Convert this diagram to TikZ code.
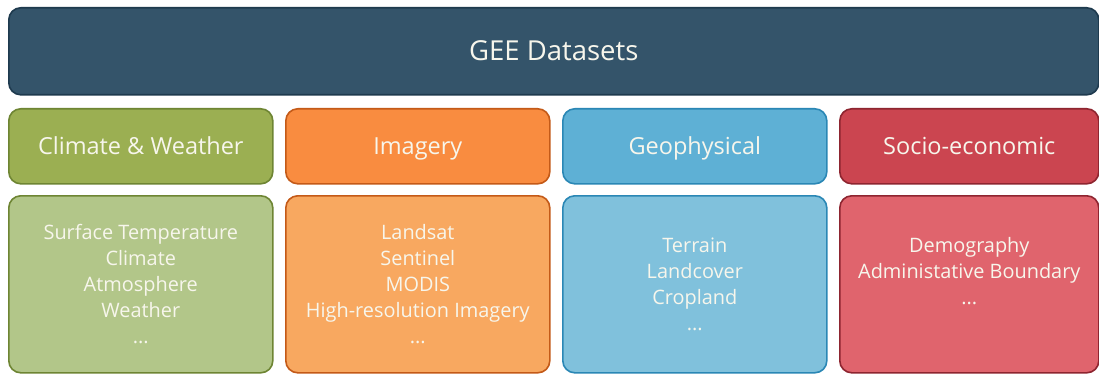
\documentclass[tikz,border=0pt]{standalone}
\usepackage{fontspec}
\setmainfont{Open Sans}
\usetikzlibrary{positioning}
\definecolor{geeblue}{HTML}{34546A}
\definecolor{geeblueline}{HTML}{1E3A4E}
\definecolor{climdark}{HTML}{9BAF52}
\definecolor{climline}{HTML}{6E8533}
\definecolor{climlight}{HTML}{B2C689}
\definecolor{imgdark}{HTML}{F98C40}
\definecolor{imgline}{HTML}{C45A18}
\definecolor{imglight}{HTML}{F8A860}
\definecolor{geodark}{HTML}{5EB0D5}
\definecolor{geoline}{HTML}{2A87B5}
\definecolor{geolight}{HTML}{80C1DC}
\definecolor{socdark}{HTML}{CB4550}
\definecolor{socline}{HTML}{8E2530}
\definecolor{soclight}{HTML}{E0646D}
\definecolor{boxtext}{HTML}{F7F6EC}
\tikzset{
catbox/.style={
  rectangle,
  rounded corners=12pt,
  line width=1.6pt,
  inner sep=0pt,
  minimum width=264pt,
  minimum height=75pt,
  text height=20pt,
  text depth=3pt,
  text=boxtext,
  font=\fontsize{23.5}{28}\selectfont,
  }
}
\tikzset{
listbox/.style={
  catbox,
  text height={},
  text depth={},
  minimum height=177pt,
  align=center,
  font=\fontsize{19.9}{26}\selectfont,
  }
}

\begin{document}
\begin{tikzpicture}[x=1pt,y=1pt]
    \useasboundingbox (0,0) rectangle (1099,-374);
    \fill[white] (0,0) rectangle (1099,-374);

    % title
    \node[catbox, fill=geeblue, draw=geeblueline, minimum width=1090pt, minimum height=87pt, anchor=north west, font=\fontsize{27.5}{32}\selectfont, text height=23pt, text depth=4pt] (gee) at (8,-7) {GEE Datasets};

    % categories
    \node[catbox, fill=climdark, draw=climline, anchor=north west] (clim) at (8,-108) {Climate \& Weather};
    \node[catbox, fill=imgdark, draw=imgline, right=11.4pt of clim] (img) {Imagery};
    \node[catbox, fill=geodark, draw=geoline, right=11.4pt of img] (geo) {Geophysical};
    \node[catbox, fill=socdark, draw=socline, right=11.4pt of geo, minimum width=259pt] (soc) {Socio-economic};

    % datasets
    \node[listbox, fill=climlight, draw=climline, below=10.4pt of clim] (climlist) {Surface Temperature\\Climate\\Atmosphere\\Weather\\...};
    \node[listbox, fill=imglight, draw=imgline, below=10.4pt of img] (imglist) {Landsat\\Sentinel\\MODIS\\High-resolution Imagery\\...};
    \node[listbox, fill=geolight, draw=geoline, below=10.4pt of geo] (geolist) {Terrain\\Landcover\\Cropland\\...};
    \node[listbox, fill=soclight, draw=socline, below=10.4pt of soc, minimum width=259pt] (soclist) {Demography\\Administative Boundary\\...\\ ~};
\end{tikzpicture}
\end{document}
